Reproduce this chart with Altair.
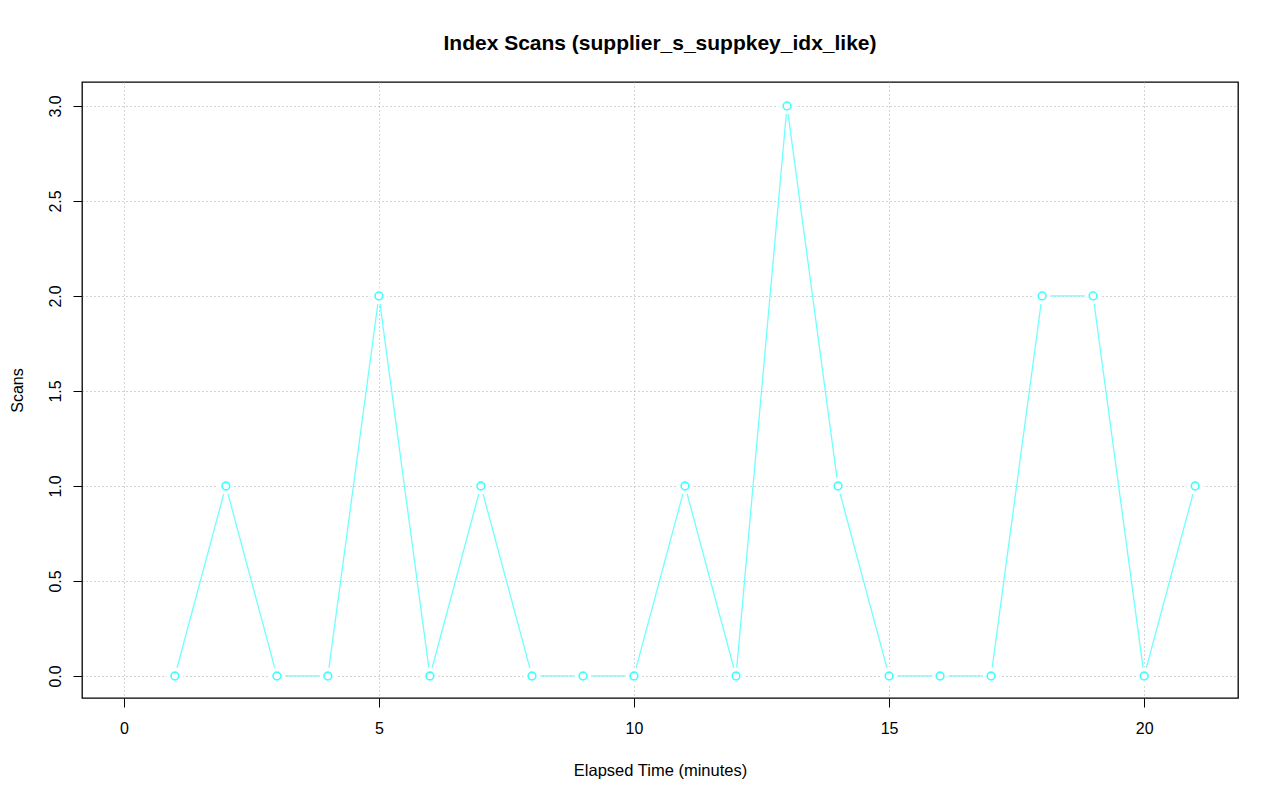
import altair as alt
import pandas as pd

minutes = list(range(1, 22))
scans = [0, 1, 0, 0, 2, 0, 1, 0, 0, 0, 1, 0, 3, 1, 0, 0, 0, 2, 2, 0, 1]
x_ticks = [0, 5, 10, 15, 20]
y_ticks = [0.0, 0.5, 1.0, 1.5, 2.0, 2.5, 3.0]

df = pd.DataFrame({"t": minutes, "s": scans})

FONT = "Liberation Sans"
xs = alt.Scale(domain=[-0.82, 21.84], nice=False, zero=False)
ys = alt.Scale(domain=[-0.116, 3.126], nice=False, zero=False)

GRID = "#A8A8A8"
xaxis = alt.Axis(values=x_ticks, title="Elapsed Time (minutes)", grid=True,
                 gridColor=GRID, gridDash=[1, 3], gridWidth=1,
                 domain=False, tickColor="black", tickSize=9, tickWidth=1,
                 labelFont=FONT, labelFontSize=16, labelColor="black", labelPadding=13,
                 titleFont=FONT, titleFontSize=16.5, titleFontWeight="normal",
                 titleColor="black", titlePadding=26, format="d")
yaxis = alt.Axis(values=y_ticks, title="Scans", grid=True,
                 gridColor=GRID, gridDash=[1, 3], gridWidth=1,
                 domain=False, tickColor="black", tickSize=9, tickWidth=1,
                 labelFont=FONT, labelFontSize=16, labelColor="black", labelAngle=-90,
                 labelAlign="center", labelBaseline="bottom", labelPadding=10,
                 titleFont=FONT, titleFontSize=16, titleFontWeight="normal",
                 titleColor="black", titlePadding=22, format=".1f")

base = alt.Chart(df)
line = base.mark_line(color="#70FFFF", strokeWidth=1.3).encode(
    x=alt.X("t:Q", scale=xs, axis=xaxis),
    y=alt.Y("s:Q", scale=ys, axis=yaxis),
)
mask = base.mark_point(shape="circle", filled=True, color="white", size=280, opacity=1).encode(
    x=alt.X("t:Q", scale=xs), y=alt.Y("s:Q", scale=ys)
)
pts = base.mark_point(shape="circle", filled=False, color="#40FFFF", size=60, strokeWidth=1.6,
                      opacity=1).encode(
    x=alt.X("t:Q", scale=xs), y=alt.Y("s:Q", scale=ys)
)

chart = alt.layer(line, mask, pts).properties(
    width=1156, height=616,
    autosize=alt.AutoSizeParams(type="none"),
    padding={"left": 74, "top": 74, "right": 34, "bottom": 95},
    title=alt.TitleParams("Index Scans (supplier_s_suppkey_idx_like)", font=FONT,
                          fontSize=21, fontWeight="bold", color="black", offset=28,
                          anchor="middle"),
).configure(background="white").configure_view(stroke="black", strokeWidth=1.3)

chart.save("out.html", embed_options={"renderer": "svg", "actions": False})
